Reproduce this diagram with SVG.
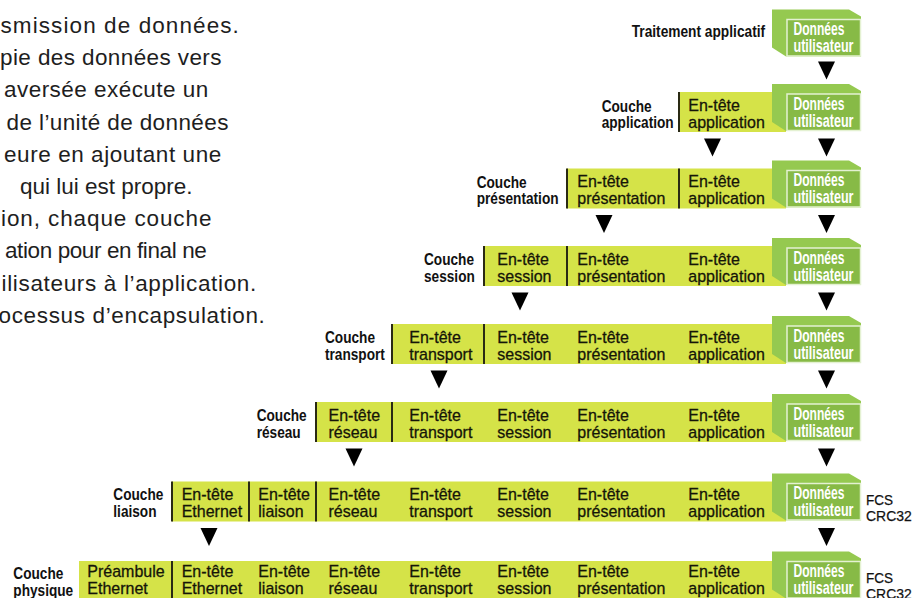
<svg xmlns="http://www.w3.org/2000/svg" xmlns:xlink="http://www.w3.org/1999/xlink" width="922" height="598" viewBox="0 0 922 598">
<style>
text{font-family:"Liberation Sans",Arial,sans-serif}
.para{font-size:22.5px;fill:#1e1e1e}
.lbl{font-size:16.5px;font-weight:bold;fill:#111}
.hdr{font-size:17px;fill:#151508;stroke:#151508;stroke-width:0.3}
.dat{font-size:17.5px;font-weight:bold;fill:#fff}
.fcs{font-size:15px;fill:#111;stroke:#111;stroke-width:0.25}
.bar{fill:#d5e348}
.div{stroke:#2a2a14;stroke-width:2}
.bev{fill:#95c950}
.front{fill:#87ba46;stroke:#e4f1d2;stroke-width:1.5}
.arr{fill:#000}
</style>
<defs>
<g id="dbox">
<polygon class="bev" points="772,-8 849,-8 861,-1 861,39 786,39 772,30"/>
<rect class="front" x="787" y="2" width="73.5" height="36.5"/>
<text class="dat" x="793.5" y="17.5" textLength="51" lengthAdjust="spacingAndGlyphs">Données</text>
<text class="dat" x="793.5" y="34.7" textLength="60" lengthAdjust="spacingAndGlyphs">utilisateur</text>
</g>
<g id="h-app">
<text class="hdr" x="688.3" y="18.5" textLength="51.6" lengthAdjust="spacingAndGlyphs">En-tête</text>
<text class="hdr" x="688.3" y="35.5" textLength="76.5" lengthAdjust="spacingAndGlyphs">application</text>
</g>
<g id="h-pre">
<text class="hdr" x="577.3" y="18.5" textLength="51.6" lengthAdjust="spacingAndGlyphs">En-tête</text>
<text class="hdr" x="577.3" y="35.5" textLength="88" lengthAdjust="spacingAndGlyphs">présentation</text>
</g>
<g id="h-ses">
<text class="hdr" x="497.3" y="18.5" textLength="51.6" lengthAdjust="spacingAndGlyphs">En-tête</text>
<text class="hdr" x="497.3" y="35.5" textLength="54.2" lengthAdjust="spacingAndGlyphs">session</text>
</g>
<g id="h-tra">
<text class="hdr" x="409.3" y="18.5" textLength="51.6" lengthAdjust="spacingAndGlyphs">En-tête</text>
<text class="hdr" x="409.3" y="35.5" textLength="63.1" lengthAdjust="spacingAndGlyphs">transport</text>
</g>
<g id="h-res">
<text class="hdr" x="328.5" y="18.5" textLength="51.6" lengthAdjust="spacingAndGlyphs">En-tête</text>
<text class="hdr" x="328.5" y="35.5" textLength="48.9" lengthAdjust="spacingAndGlyphs">réseau</text>
</g>
<g id="h-lia">
<text class="hdr" x="258.3" y="18.5" textLength="51.6" lengthAdjust="spacingAndGlyphs">En-tête</text>
<text class="hdr" x="258.3" y="35.5" textLength="45.3" lengthAdjust="spacingAndGlyphs">liaison</text>
</g>
<g id="h-eth">
<text class="hdr" x="181.7" y="18.5" textLength="51.6" lengthAdjust="spacingAndGlyphs">En-tête</text>
<text class="hdr" x="181.7" y="35.5" textLength="60.5" lengthAdjust="spacingAndGlyphs">Ethernet</text>
</g>
<g id="h-pream">
<text class="hdr" x="87.3" y="18.5" textLength="77.4" lengthAdjust="spacingAndGlyphs">Préambule</text>
<text class="hdr" x="87.3" y="35.5" textLength="60.5" lengthAdjust="spacingAndGlyphs">Ethernet</text>
</g>
</defs>

<g id="paragraph">
<text class="para" x="0.5" y="33" letter-spacing="1.09">smission de données.</text>
<text class="para" x="0" y="65.2" letter-spacing="0.4">pie des données vers</text>
<text class="para" x="4" y="97.4" letter-spacing="0.46">aversée exécute un</text>
<text class="para" x="6.5" y="129.6" letter-spacing="0.4">de l’unité de données</text>
<text class="para" x="4" y="161.8" letter-spacing="0.57">eure en ajoutant une</text>
<text class="para" x="20" y="194">qui lui est propre.</text>
<text class="para" x="1" y="226.2" letter-spacing="0.9">ion, chaque couche</text>
<text class="para" x="5" y="258.4" letter-spacing="-0.4">ation pour en final ne</text>
<text class="para" x="1.5" y="290.6" letter-spacing="0.66">ilisateurs à l’application.</text>
<text class="para" x="-1.5" y="322.8" letter-spacing="0.65">ocessus d’encapsulation.</text>
</g>

<g id="row0" transform="translate(0,17.5)">
<text class="lbl" x="631.7" y="19.5" textLength="133.4" lengthAdjust="spacingAndGlyphs">Traitement applicatif</text>
<use xlink:href="#dbox"/>
</g>

<g id="row1" transform="translate(0,92)">
<rect class="bar" x="679" y="0" width="107" height="40"/>
<line class="div" x1="679" y1="0" x2="679" y2="40"/>
<text class="lbl" x="601.7" y="19.5" textLength="50" lengthAdjust="spacingAndGlyphs">Couche</text>
<text class="lbl" x="601.7" y="35.7" textLength="72" lengthAdjust="spacingAndGlyphs">application</text>
<use xlink:href="#h-app"/>
<use xlink:href="#dbox"/>
</g>

<g id="row2" transform="translate(0,168.5)">
<rect class="bar" x="567" y="0" width="219" height="40"/>
<line class="div" x1="567" y1="0" x2="567" y2="40"/>
<line class="div" x1="679" y1="0" x2="679" y2="40"/>
<text class="lbl" x="476.7" y="19" textLength="50" lengthAdjust="spacingAndGlyphs">Couche</text>
<text class="lbl" x="476.7" y="35.5" textLength="81.9" lengthAdjust="spacingAndGlyphs">présentation</text>
<use xlink:href="#h-pre"/>
<use xlink:href="#h-app"/>
<use xlink:href="#dbox"/>
</g>

<g id="row3" transform="translate(0,246)">
<rect class="bar" x="484" y="0" width="302" height="40"/>
<line class="div" x1="484" y1="0" x2="484" y2="40"/>
<line class="div" x1="567" y1="0" x2="567" y2="40"/>
<text class="lbl" x="424" y="19" textLength="50" lengthAdjust="spacingAndGlyphs">Couche</text>
<text class="lbl" x="424" y="35.5" textLength="50.8" lengthAdjust="spacingAndGlyphs">session</text>
<use xlink:href="#h-ses"/>
<use xlink:href="#h-pre"/>
<use xlink:href="#h-app"/>
<use xlink:href="#dbox"/>
</g>

<g id="row4" transform="translate(0,324)">
<rect class="bar" x="392" y="0" width="394" height="40"/>
<line class="div" x1="392" y1="0" x2="392" y2="40"/>
<line class="div" x1="484" y1="0" x2="484" y2="40"/>
<text class="lbl" x="325" y="19" textLength="50" lengthAdjust="spacingAndGlyphs">Couche</text>
<text class="lbl" x="325" y="35.5" textLength="59.9" lengthAdjust="spacingAndGlyphs">transport</text>
<use xlink:href="#h-tra"/>
<use xlink:href="#h-ses"/>
<use xlink:href="#h-pre"/>
<use xlink:href="#h-app"/>
<use xlink:href="#dbox"/>
</g>

<g id="row5" transform="translate(0,402)">
<rect class="bar" x="316" y="0" width="470" height="40"/>
<line class="div" x1="316" y1="0" x2="316" y2="40"/>
<line class="div" x1="392" y1="0" x2="392" y2="40"/>
<text class="lbl" x="256.7" y="19" textLength="50" lengthAdjust="spacingAndGlyphs">Couche</text>
<text class="lbl" x="256.7" y="35.5" textLength="44" lengthAdjust="spacingAndGlyphs">réseau</text>
<use xlink:href="#h-res"/>
<use xlink:href="#h-tra"/>
<use xlink:href="#h-ses"/>
<use xlink:href="#h-pre"/>
<use xlink:href="#h-app"/>
<use xlink:href="#dbox"/>
</g>

<g id="row6" transform="translate(0,481.5)">
<rect class="bar" x="172" y="0" width="614" height="40"/>
<line class="div" x1="172" y1="0" x2="172" y2="40"/>
<line class="div" x1="249" y1="0" x2="249" y2="40"/>
<line class="div" x1="316" y1="0" x2="316" y2="40"/>
<text class="lbl" x="113.3" y="18.5" textLength="50" lengthAdjust="spacingAndGlyphs">Couche</text>
<text class="lbl" x="113.3" y="35.3" textLength="43.2" lengthAdjust="spacingAndGlyphs">liaison</text>
<use xlink:href="#h-eth"/>
<use xlink:href="#h-lia"/>
<use xlink:href="#h-res"/>
<use xlink:href="#h-tra"/>
<use xlink:href="#h-ses"/>
<use xlink:href="#h-pre"/>
<use xlink:href="#h-app"/>
<use xlink:href="#dbox"/>
<text class="fcs" x="866" y="23.5" textLength="27" lengthAdjust="spacingAndGlyphs">FCS</text>
<text class="fcs" x="866" y="39.2" textLength="45.7" lengthAdjust="spacingAndGlyphs">CRC32</text>
</g>

<g id="row7" transform="translate(0,561)">
<rect class="bar" x="79" y="0" width="707" height="40"/>
<line class="div" x1="172" y1="0" x2="172" y2="40"/>
<text class="lbl" x="13.3" y="18.3" textLength="50" lengthAdjust="spacingAndGlyphs">Couche</text>
<text class="lbl" x="13.3" y="34.5" textLength="59.9" lengthAdjust="spacingAndGlyphs">physique</text>
<g transform="translate(0,-2.5)">
<use xlink:href="#h-pream"/>
<use xlink:href="#h-eth"/>
<use xlink:href="#h-lia"/>
<use xlink:href="#h-res"/>
<use xlink:href="#h-tra"/>
<use xlink:href="#h-ses"/>
<use xlink:href="#h-pre"/>
<use xlink:href="#h-app"/>
</g>
<use xlink:href="#dbox" y="-1.5"/>
<text class="fcs" x="866" y="22.3" textLength="27" lengthAdjust="spacingAndGlyphs">FCS</text>
<text class="fcs" x="866" y="38" textLength="45.7" lengthAdjust="spacingAndGlyphs">CRC32</text>
</g>

<g id="connectors">
<polygon class="arr" points="818,61.5 835,61.5 826.5,79.5"/>
<polygon class="arr" points="818,138.5 835,138.5 826.5,156.5"/>
<polygon class="arr" points="818,215 835,215 826.5,233"/>
<polygon class="arr" points="818,292.5 835,292.5 826.5,310.5"/>
<polygon class="arr" points="818,370.5 835,370.5 826.5,388.5"/>
<polygon class="arr" points="818,448.5 835,448.5 826.5,466.5"/>
<polygon class="arr" points="818,528 835,528 826.5,546"/>
<polygon class="arr" points="704,138.5 721,138.5 712.5,156.5"/>
<polygon class="arr" points="595.5,215 612.5,215 604,233"/>
<polygon class="arr" points="511.5,292.5 528.5,292.5 520,310.5"/>
<polygon class="arr" points="430.5,370.5 447.5,370.5 439,388.5"/>
<polygon class="arr" points="345.5,448.5 362.5,448.5 354,466.5"/>
<polygon class="arr" points="200.5,528 217.5,528 209,546"/>
</g>
</svg>
